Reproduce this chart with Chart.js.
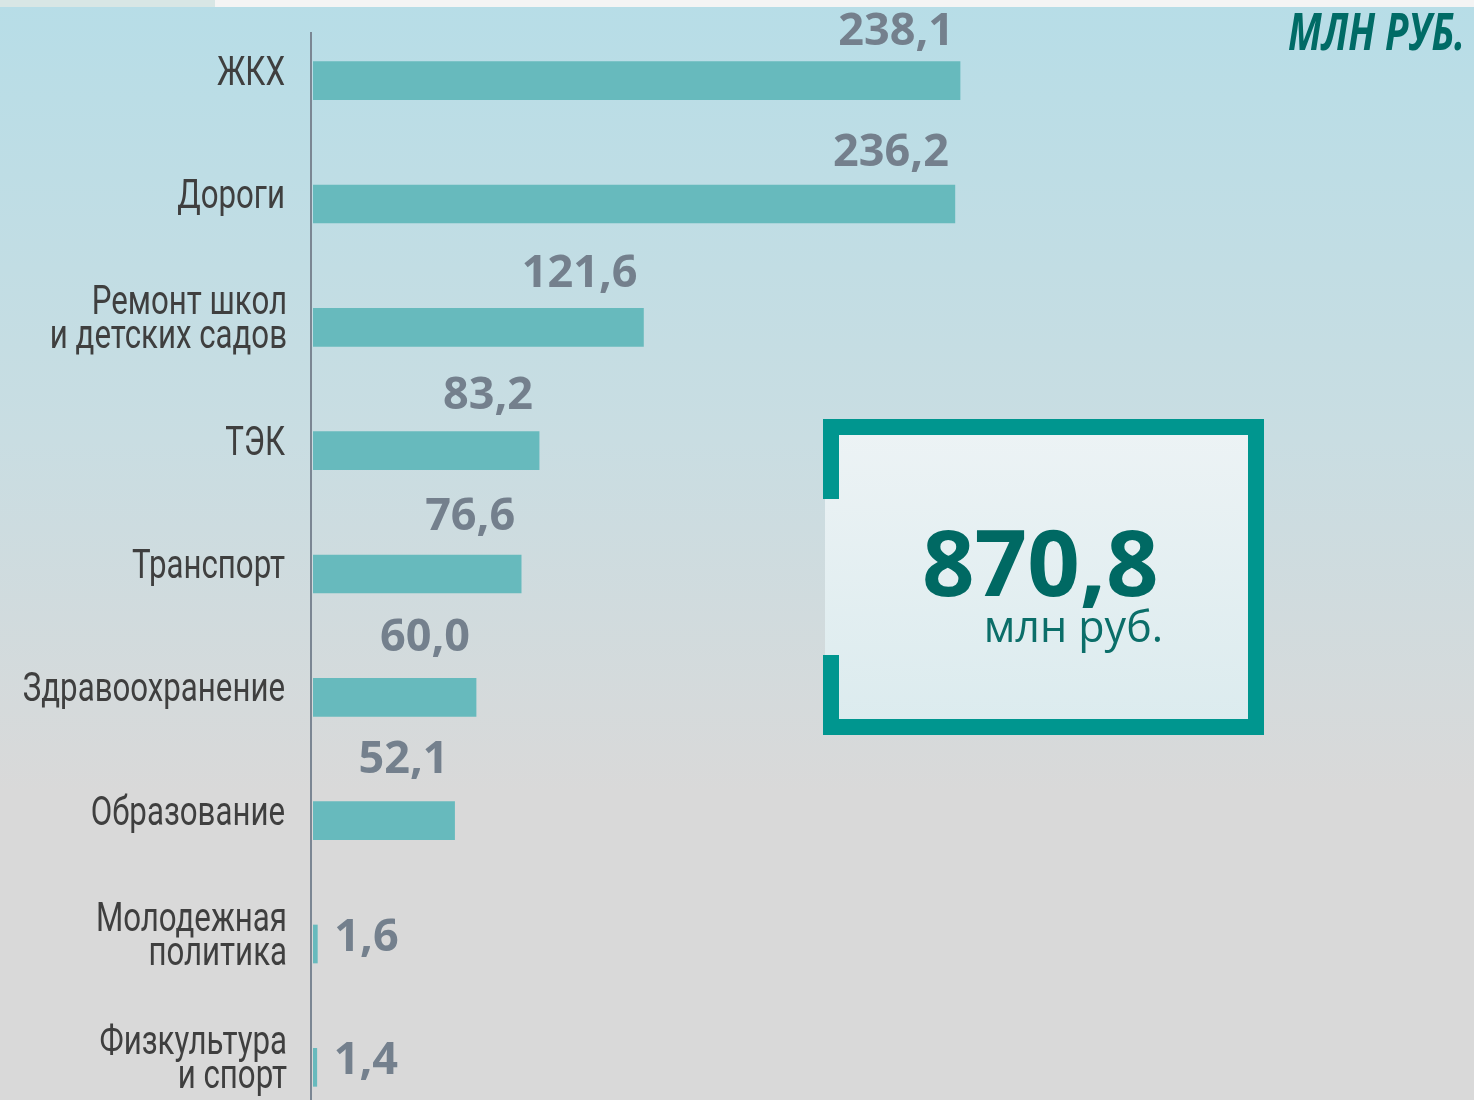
<!DOCTYPE html>
<html lang="ru">
<head>
<meta charset="utf-8">
<title>Расходы по направлениям, млн руб.</title>
<script src="https://cdn.jsdelivr.net/npm/chart.js@4.4.1/dist/chart.umd.min.js"></script>
<style>
    html, body { margin: 0; padding: 0; overflow: hidden; background: #d9d9d9; }
    #wrap { position: relative; width: 1474px; height: 1130px; }
</style>
</head>
<body>
<div id="wrap"><canvas id="chart"></canvas></div>
<script>
const categories = [
    ["ЖКХ"],
    ["Дороги"],
    ["Ремонт школ", "и детских садов"],
    ["ТЭК"],
    ["Транспорт"],
    ["Здравоохранение"],
    ["Образование"],
    ["Молодежная", "политика"],
    ["Физкультура", "и спорт"]
];
const values = [238.1, 236.2, 121.6, 83.2, 76.6, 60.0, 52.1, 1.6, 1.4];
const totalValue = 870.8;
const unitTitle = "МЛН РУБ.";
const totalUnit = "млн руб.";
const xMax = 400;

function fmt(v) {
    return v.toFixed(1).replace(".", ",");
}

const decor = {
    id: "decor",
    beforeDraw(chart) {
        const ctx = chart.ctx;
        const w = chart.width, h = chart.height;
        ctx.save();
        const bg = ctx.createLinearGradient(0, 0, 0, 1100);
        bg.addColorStop(0, "#b7dde7");
        bg.addColorStop(0.4, "#c9dde2");
        bg.addColorStop(0.72, "#d9d9d9");
        bg.addColorStop(1, "#d9d9d9");
        ctx.fillStyle = bg;
        ctx.fillRect(0, 0, w, h);
        // strip along the top edge
        ctx.fillStyle = "#d8e6e5";
        ctx.fillRect(0, 0, 215, 7);
        ctx.fillStyle = "#f4f4f4";
        ctx.fillRect(215, 0, w - 215, 7);
        ctx.restore();
    },
    beforeDatasetsDraw(chart) {
        const ctx = chart.ctx;
        const x0 = chart.scales.x.getPixelForValue(0) - 2;
        ctx.save();
        ctx.strokeStyle = "#7b8693";
        ctx.lineWidth = 2;
        ctx.beginPath();
        ctx.moveTo(x0, 32);
        ctx.lineTo(x0, chart.height);
        ctx.stroke();
        ctx.restore();
    },
    afterDatasetsDraw(chart) {
        const ctx = chart.ctx;
        const yScale = chart.scales.y;
        const meta = chart.getDatasetMeta(0);
        ctx.save();

        // category labels, condensed
        ctx.font = "40px Roboto";
        ctx.fillStyle = "#3f3f3f";
        ctx.textAlign = "right";
        ctx.textBaseline = "alphabetic";
        const squeeze = 0.975 * 269 / ctx.measureText("Здравоохранение").width;
        categories.forEach((lines, i) => {
            const cy = yScale.getPixelForTick(i);
            const right = lines.length > 1 ? 287 : 285;
            lines.forEach((line, k) => {
                const by = cy + 4 + (k - (lines.length - 1) / 2) * 34;
                ctx.save();
                ctx.translate(right, by);
                ctx.scale(squeeze, 1);
                ctx.fillText(line, 0, 0);
                ctx.restore();
            });
        });

        // value labels
        ctx.font = "bold 45px 'Open Sans'";
        ctx.fillStyle = "#74808d";
        meta.data.forEach((bar, i) => {
            const v = values[i];
            if (v < 10) {
                ctx.textAlign = "left";
                ctx.fillText(fmt(v), bar.x + 17, bar.y + 7);
            } else {
                ctx.textAlign = "right";
                ctx.fillText(fmt(v), bar.x - 6, bar.y - 36 - 2 * i);
            }
        });

        // unit title, top right
        ctx.font = "bold italic 52px 'Open Sans'";
        ctx.fillStyle = "#006b66";
        const tw = ctx.measureText(unitTitle).width;
        ctx.save();
        ctx.translate(1465, 50);
        ctx.scale(177 / tw, 1);
        ctx.textAlign = "right";
        ctx.fillText(unitTitle, 0, 0);
        ctx.restore();

        // total box
        const bx = 823, by = 419, bw = 441, bh = 316, t = 16;
        const fill = ctx.createLinearGradient(0, by, 0, by + bh);
        fill.addColorStop(0, "#edf3f5");
        fill.addColorStop(1, "#dbebee");
        ctx.fillStyle = fill;
        ctx.fillRect(bx + 2, by + t, bw - t - 2, bh - 2 * t);
        ctx.fillStyle = "#00968f";
        ctx.fillRect(bx, by, bw, t);                 // top
        ctx.fillRect(bx, by + bh - t, bw, t);        // bottom
        ctx.fillRect(bx + bw - t, by, t, bh);        // right
        ctx.fillRect(bx, by, t, 80);                 // left, upper part
        ctx.fillRect(bx, by + 236, t, bh - 236);     // left, lower part

        ctx.fillStyle = "#006963";
        ctx.font = "bold 92px 'Open Sans'";
        ctx.textAlign = "left";
        ctx.fillText(fmt(totalValue), 922, 596);
        ctx.fillStyle = "#0b6e69";
        ctx.font = "43px 'Open Sans'";
        ctx.textAlign = "right";
        ctx.fillText(totalUnit, 1163, 642);

        ctx.restore();
    }
};

new Chart(document.getElementById("chart"), {
    type: "bar",
    data: {
        labels: categories,
        datasets: [{
            data: values,
            backgroundColor: "#67babd",
            borderWidth: 0,
            barThickness: 38
        }]
    },
    options: {
        indexAxis: "y",
        responsive: true,
        maintainAspectRatio: false,
        animation: false,
        layout: { padding: { left: 313, right: 74, top: 19, bottom: 1 } },
        scales: {
            x: { min: 0, max: xMax, display: false },
            y: { display: false }
        },
        plugins: {
            legend: { display: false },
            tooltip: { enabled: false }
        }
    },
    plugins: [decor]
});
</script>
</body>
</html>
